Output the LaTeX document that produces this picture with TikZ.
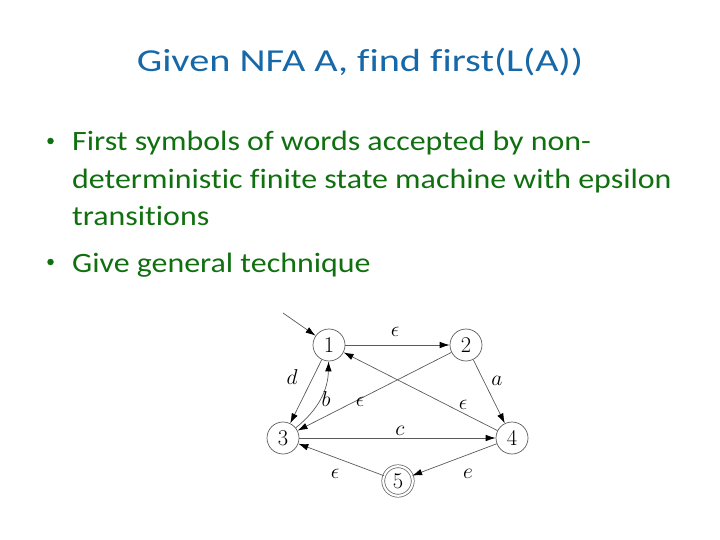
\documentclass[tikz,border=0pt]{standalone}
\usepackage{fix-cm}
\usepackage{fontspec}
\setmainfont{Carlito}[Ligatures=NoCommon]
\usetikzlibrary{arrows.meta}
\definecolor{titleblue}{RGB}{23,104,168}
\definecolor{bulletgreen}{RGB}{16,112,16}
\definecolor{edgegray}{RGB}{90,90,90}
\begin{document}
\begin{tikzpicture}[x=1pt,y=-1pt,
  state/.style={circle,draw=edgegray,line width=0.7pt,minimum size=32pt,inner sep=0pt,font=\fontsize{22.5}{22.5}\selectfont},
  accepting/.style={double,double distance=2.2pt,minimum size=29.5pt},
  edge/.style={draw=edgegray,line width=0.7pt,-{Latex[length=10pt,width=6.5pt,color=black]}},
  lbl/.style={font=\fontsize{21.5}{21.5}\selectfont,inner sep=0pt},
  bodytext/.style={anchor=base west,inner sep=0pt,text=bulletgreen,font=\fontsize{28}{34}\selectfont},
  bulletdot/.style={circle,fill=bulletgreen,minimum size=6.5pt,inner sep=0pt},
]
\useasboundingbox (0,0) rectangle (720,540);
\node[anchor=base,inner sep=0pt,text=titleblue,font=\fontsize{32}{38}\selectfont] (title) at (360,72) {\scalebox{1.26}[1]{Given NFA A, find first(L(A))}};
\node[bulletdot] (b1) at (50.5,141) {};
\node[bodytext] (l1) at (72,151) {\scalebox{1.14}[1]{First symbols of words accepted by non-}};
\node[bodytext] (l2) at (72,188.5) {\scalebox{1.14}[1]{deterministic finite state machine with epsilon}};
\node[bodytext] (l3) at (72,225.5) {\scalebox{1.14}[1]{transitions}};
\node[bulletdot] (b2) at (50.5,262) {};
\node[bodytext] (l4) at (72,272) {\scalebox{1.14}[1]{Give general technique}};

\node[state] (1) at (329,345) {$1$};
\node[state] (2) at (466,345) {$2$};
\node[state] (3) at (283,438) {$3$};
\node[state] (4) at (512,438) {$4$};
\node[state,accepting] (5) at (398,481) {$5$};
\coordinate (s) at (283,313);

\draw[edge] (s) -- (1);
\draw[edge] (1) -- (2) node[lbl] at (395,332) {$\epsilon$};
\draw[edge] (2) -- (4) node[lbl] at (497,381) {$a$};
\draw[edge] (4) -- (1) node[lbl] at (463,405) {$\epsilon$};
\draw[edge] (2) -- (3) node[lbl] at (360,402) {$\epsilon$};
\draw[edge] (3) -- (4) node[lbl] at (400,431) {$c$};
\draw[edge] (4) -- (5) node[lbl] at (468,474) {$e$};
\draw[edge] (5) -- (3) node[lbl] at (335,474) {$\epsilon$};
\draw[edge] (1) -- (3) node[lbl] at (292,377) {$d$};
\draw[edge] (3) to[bend right=25] (1) node[lbl] at (326,399) {$b$};
\end{tikzpicture}
\end{document}
